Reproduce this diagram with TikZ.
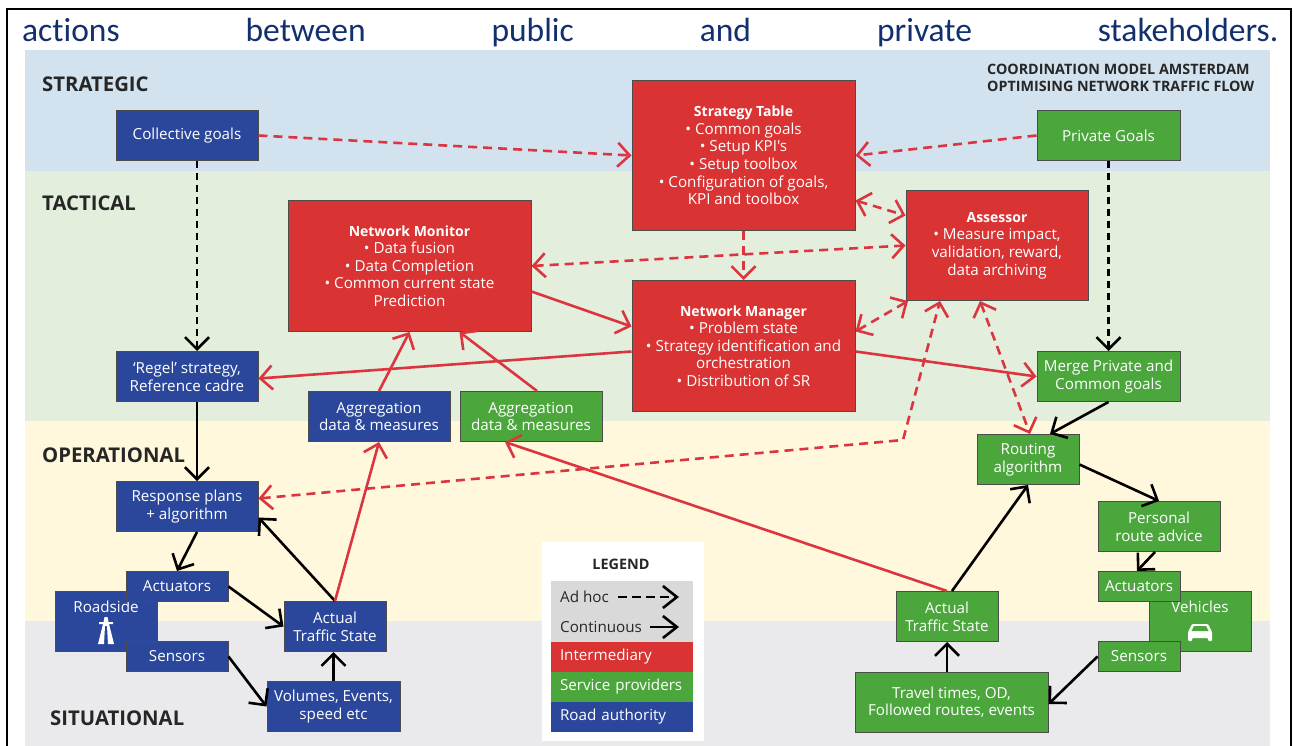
\documentclass[tikz,border=0pt]{standalone}
\usepackage{fontspec}
\newfontfamily\introfont[Ligatures=NoCommon]{Carlito}
\newfontfamily\boxfont{Open Sans}
\usepackage{tikz}
\usetikzlibrary{arrows.meta}
\definecolor{roadblue}{HTML}{2B479B}
\definecolor{interred}{HTML}{D93333}
\definecolor{servgreen}{HTML}{4BA63C}
\definecolor{linered}{HTML}{DB3540}
\definecolor{introblue}{HTML}{12306E}
\definecolor{bgstrategic}{HTML}{D2E3EF}
\definecolor{bgtactical}{HTML}{E3EEDD}
\definecolor{bgoperational}{HTML}{FFF8DC}
\definecolor{bgsituational}{HTML}{EAEAEC}
\definecolor{legendgrey}{HTML}{D9D9D9}
\newcommand{\boxhead}[1]{{\fontsize{14}{17.6}\selectfont\bfseries #1}}

\begin{document}
\begin{tikzpicture}[x=1pt,y=-1pt]
                \tikzstyle{box} = [shape=rectangle, draw=black!70, line width=1pt, text=white, align=center, inner sep=0pt, font=\boxfont\fontsize{15.2}{17.6}\selectfont];
                \tikzstyle{authority} = [box, fill=roadblue];
                \tikzstyle{provider} = [box, fill=servgreen];
                \tikzstyle{intermediary} = [box, fill=interred];
                \tikzstyle{level} = [anchor=west, inner sep=0pt, text=black!85, font=\boxfont\fontsize{20.3}{22}\selectfont\bfseries];
                \tikzstyle{legendrow} = [shape=rectangle, minimum width=142pt, minimum height=30pt, inner sep=0pt, text width=124pt, align=left, font=\boxfont\fontsize{15.2}{17}\selectfont];
                \tikzstyle{legendtext} = [anchor=west, inner sep=0pt, text=black!85, font=\boxfont\fontsize{15.2}{17}\selectfont];
                \tikzstyle{flow} = [-{Straight Barb[length=12pt,width=24pt]}, line width=2.6pt, black];
                \tikzstyle{adhoc} = [flow, dash pattern=on 7pt off 5pt];
                \tikzstyle{link} = [-{Straight Barb[length=12pt,width=24pt]}, line width=2.6pt, linered];
                \tikzstyle{redadhoc} = [link, dash pattern=on 9pt off 6pt];
                \tikzstyle{bothways} = [{Straight Barb[length=12pt,width=24pt]}-{Straight Barb[length=12pt,width=24pt]}, line width=2.6pt, linered, dash pattern=on 9pt off 6pt];

                \useasboundingbox (0,0) rectangle (1293,746);

                \fill[white] (0,0) rectangle (1293,746);
                \fill[bgstrategic] (25,50) rectangle (1270,171);
                \fill[bgtactical] (25,171) rectangle (1270,421);
                \fill[bgoperational] (25,421) rectangle (1270,621);
                \fill[bgsituational] (25,621) rectangle (1270,746);
                \draw[line width=2pt] (7,746) -- (7,9) -- (1291,9) -- (1291,746);

                \node[anchor=west, inner sep=0pt, text=introblue, font=\introfont\fontsize{33.5}{36}\selectfont](INTRO) at (22,33) {\makebox[1256pt][s]{actions\hfill between\hfill public\hfill and\hfill private\hfill stakeholders.}};

                \node[level](STRAT) at (42,84) {STRATEGIC};
                \node[level](TACT) at (42,203) {TACTICAL};
                \node[level](OPER) at (42,455) {OPERATIONAL};
                \node[level](SITU) at (50,718) {SITUATIONAL};
                \node[anchor=north west, inner sep=0pt, align=left, text=black!85, font=\boxfont\fontsize{14.3}{17}\selectfont\bfseries](TITLE) at (987,64) {COORDINATION MODEL AMSTERDAM\\OPTIMISING NETWORK TRAFFIC FLOW};

                \node[authority, minimum width=142pt, minimum height=50pt](CG) at (187,135.5) {Collective goals};
                \node[authority, minimum width=142pt, minimum height=50pt](RS) at (187,376.5) {‘Regel’ strategy,\\Reference cadre};
                \node[authority, minimum width=142pt, minimum height=50pt](RP) at (187,506.5) {Response plans\\+ algorithm};
                \node[authority, minimum width=102pt, minimum height=60pt](RD) at (106,621.5) {Roadside\\[12.4pt]~};
                \node[authority, minimum width=102pt, minimum height=30pt](AL) at (177,586.5) {Actuators};
                \node[authority, minimum width=102pt, minimum height=30pt](SL) at (177,656.5) {Sensors};
                \node[authority, minimum width=102pt, minimum height=50pt](TL) at (335,626.5) {Actual\\Traffic State};
                \node[authority, minimum width=133pt, minimum height=50pt](VO) at (333.5,706.5) {Volumes, Events,\\speed etc};
                \node[authority, minimum width=142pt, minimum height=50pt](AB) at (379,416.5) {Aggregation\\data \& measures};

                \node[provider, minimum width=142pt, minimum height=50pt](AG) at (531,416.5) {Aggregation\\data \& measures};
                \node[provider, minimum width=143pt, minimum height=50pt](PG) at (1108.5,135.5) {Private Goals};
                \node[provider, minimum width=143pt, minimum height=50pt](MP) at (1108.5,376.5) {Merge Private and\\Common goals};
                \node[provider, minimum width=102pt, minimum height=50pt](RO) at (1028,459.5) {Routing\\algorithm};
                \node[provider, minimum width=122pt, minimum height=50pt](PR) at (1159,526.5) {Personal\\route advice};
                \node[provider, minimum width=102pt, minimum height=60pt](VE) at (1200,621.5) {Vehicles\\[12.4pt]~};
                \node[provider, minimum width=82pt, minimum height=30pt](AR) at (1139,586.5) {Actuators};
                \node[provider, minimum width=82pt, minimum height=30pt](SR) at (1139,656.5) {Sensors};
                \node[provider, minimum width=102pt, minimum height=50pt](TR) at (947,616.5) {Actual\\Traffic State};
                \node[provider, minimum width=193pt, minimum height=60pt](TT) at (951.5,702) {Travel times, OD,\\Followed routes, events};

                \node[intermediary, minimum width=243pt, minimum height=131pt](NM) at (409.5,266) {\boxhead{Network Monitor}\\• Data fusion\\• Data Completion\\• Common current state\\Prediction};
                \node[intermediary, minimum width=223pt, minimum height=150pt](ST) at (743.5,155.5) {\boxhead{Strategy Table}\\• Common goals\\• Setup KPI's\\• Setup toolbox\\• Configuration of goals,\\KPI and toolbox};
                \node[intermediary, minimum width=223pt, minimum height=131pt](MG) at (743.5,346) {\boxhead{Network Manager}\\• Problem state\\• Strategy identification and\\orchestration\\• Distribution of SR};
                \node[intermediary, minimum width=182pt, minimum height=110pt](AS) at (997,245.5) {\boxhead{Assessor}\\• Measure impact,\\validation, reward,\\data archiving};

                \fill[white] (104.5,617) -- (107.5,617) -- (108.5,622) -- (113,622) -- (113,624) -- (109,624) -- (114,644) -- (108,644) -- (107,626) -- (105,626) -- (104,644) -- (98,644) -- (103,624) -- (99,624) -- (99,622) -- (103.5,622) -- cycle;
                \fill[white, rounded corners=1pt] (1188,641) -- (1188,632) -- (1192,624) -- (1208,624) -- (1212,632) -- (1212,641) -- (1208,641) -- (1208,638) -- (1192,638) -- (1192,641) -- cycle;
                \fill[servgreen] (1194,626) -- (1206,626) -- (1208.5,631) -- (1191.5,631) -- cycle;

                \coordinate (BEND) at (903,440);

                \path[adhoc]
                    ([xshift=10pt]CG.south) edge ([xshift=10pt]RS.north)
                    (PG.south) edge (MP.north)
                ;
                \path[flow]
                    ([xshift=10pt]RS.south) edge ([xshift=10pt]RP.north)
                    ([xshift=10pt]RP.south) edge (AL.north)
                    (AL.east) edge (TL.west)
                    (TL.north) edge ([yshift=-11pt]RP.east)
                    (SL.east) edge (VO.west)
                    (VO.north) edge ([xshift=-1.5pt]TL.south)
                    (MP.south) edge ([xshift=22pt]RO.north)
                    ([xshift=5pt]TR.north) edge (RO.south)
                    ([yshift=-5pt]RO.east) edge (PR.north)
                    ([xshift=-4pt]PR.south) edge ([xshift=-2pt]AR.north)
                    (SR.west) edge ([yshift=-2pt]TT.east)
                    ([xshift=-4.5pt]TT.north) edge (TR.south)
                ;
                \path[redadhoc]
                    (CG.east) edge (ST.west)
                    (PG.west) edge (ST.east)
                    (ST.south) edge (MG.north)
                ;
                \path[bothways]
                    (NM.east) edge (AS.west)
                    ([yshift=-45pt]ST.east) edge ([yshift=30pt]AS.west)
                    ([yshift=14.5pt]MG.east) edge ([xshift=-89pt]AS.south)
                    ([xshift=-17pt]AS.south) edge ([xshift=2pt]RO.north)
                ;
                \draw[bothways] ([yshift=8pt]RP.east) -- (BEND) -- ([xshift=-57pt]AS.south);
                \path[link]
                    (TL.north) edge (AB.south)
                    (AB.north) edge (NM.south)
                    ([xshift=6pt]AG.north) edge ([xshift=50pt]NM.south)
                    ([yshift=-25.5pt]NM.east) edge ([yshift=19.5pt]MG.west)
                    ([yshift=-5.5pt]MG.west) edge ([yshift=-2pt]RS.east)
                    ([yshift=-5.5pt]MG.east) edge (MP.west)
                    (TR.north) edge ([xshift=-26pt]AG.south)
                ;

                \node[shape=rectangle, fill=white, minimum width=162pt, minimum height=199pt, inner sep=0pt](LEG) at (623,641.5) {};
                \node[inner sep=0pt, text=black!85, font=\boxfont\fontsize{14.4}{17}\selectfont\bfseries](LEGT) at (621,564) {LEGEND};
                \node[shape=rectangle, fill=legendgrey, minimum width=142pt, minimum height=61pt, inner sep=0pt](LEGG) at (622,611.5) {};
                \node[legendrow, fill=interred, text=white](LEGR) at (622,657) {Intermediary};
                \node[legendrow, fill=servgreen, text=white](LEGS) at (622,687) {Service providers};
                \node[legendrow, fill=roadblue, text=white](LEGB) at (622,717) {Road authority};
                \node[legendtext](ADHOC) at (560,597) {Ad hoc};
                \node[legendtext](CONT) at (560,627) {Continuous};
                \coordinate (ADHOCEND) at (679,597);
                \coordinate (CONTEND) at (679,627);

                \draw[-{Straight Barb[length=14pt,width=22pt]}, line width=2.6pt, dash pattern=on 9pt off 5pt] ([xshift=9pt]ADHOC.east) -- (ADHOCEND);
                \draw[-{Straight Barb[length=14pt,width=22pt]}, line width=2.6pt] ([xshift=8pt]CONT.east) -- (CONTEND);
            \end{tikzpicture}
\end{document}
